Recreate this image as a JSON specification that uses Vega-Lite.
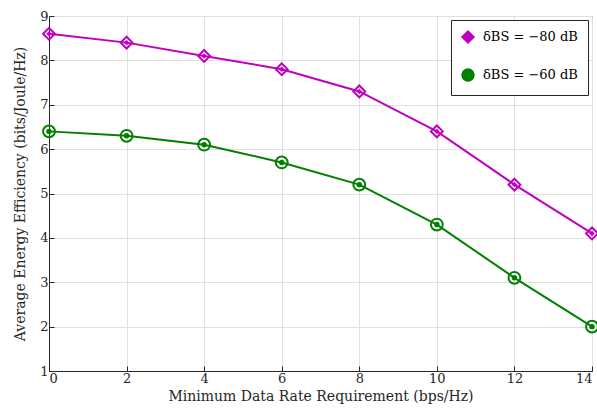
{
  "$schema": "https://vega.github.io/schema/vega-lite/v6.json",
  "autosize": {"type": "none"},
  "padding": {"left": 49, "top": 16, "right": 5, "bottom": 49},
  "width": 543,
  "height": 355,
  "background": "white",
  "config": {
    "font": "DejaVu Serif",
    "view": {"stroke": "#262626", "strokeWidth": 1},
    "axis": {
      "labelFont": "DejaVu Serif",
      "titleFont": "DejaVu Serif",
      "labelFontSize": 13,
      "titleFontSize": 14,
      "titleFontWeight": "normal",
      "labelColor": "#262626",
      "titleColor": "#262626",
      "domainColor": "#262626",
      "tickColor": "#262626",
      "gridColor": "#e0e0e0",
      "gridWidth": 1,
      "tickSize": -5
    },
    "legend": {
      "labelFont": "DejaVu Serif"
    }
  },
  "data": {
    "values": [
      {"rate": 0, "ee": 8.6, "series": "δBS = −80 dB"},
      {"rate": 2, "ee": 8.4, "series": "δBS = −80 dB"},
      {"rate": 4, "ee": 8.1, "series": "δBS = −80 dB"},
      {"rate": 6, "ee": 7.8, "series": "δBS = −80 dB"},
      {"rate": 8, "ee": 7.3, "series": "δBS = −80 dB"},
      {"rate": 10, "ee": 6.4, "series": "δBS = −80 dB"},
      {"rate": 12, "ee": 5.2, "series": "δBS = −80 dB"},
      {"rate": 14, "ee": 4.1, "series": "δBS = −80 dB"},
      {"rate": 0, "ee": 6.4, "series": "δBS = −60 dB"},
      {"rate": 2, "ee": 6.3, "series": "δBS = −60 dB"},
      {"rate": 4, "ee": 6.1, "series": "δBS = −60 dB"},
      {"rate": 6, "ee": 5.7, "series": "δBS = −60 dB"},
      {"rate": 8, "ee": 5.2, "series": "δBS = −60 dB"},
      {"rate": 10, "ee": 4.3, "series": "δBS = −60 dB"},
      {"rate": 12, "ee": 3.1, "series": "δBS = −60 dB"},
      {"rate": 14, "ee": 2.0, "series": "δBS = −60 dB"}
    ]
  },
  "encoding": {
    "x": {
      "field": "rate", "type": "quantitative",
      "scale": {"domain": [0, 14], "nice": false},
      "axis": {"values": [0, 2, 4, 6, 8, 10, 12, 14], "title": "Minimum Data Rate Requirement (bps/Hz)", "titlePadding": 4, "labelPadding": 6}
    },
    "y": {
      "field": "ee", "type": "quantitative",
      "scale": {"domain": [1, 9], "nice": false, "zero": false},
      "axis": {"values": [1, 2, 3, 4, 5, 6, 7, 8, 9], "title": "Average Energy Efficiency (bits/Joule/Hz)", "titlePadding": 12, "labelPadding": 6}
    },
    "color": {
      "field": "series", "type": "nominal",
      "scale": {"domain": ["δBS = −80 dB", "δBS = −60 dB"], "range": ["#c000c0", "#008000"]},
      "legend": {
        "title": null,
        "orient": "top-right",
        "offset": 4,
        "fillColor": "white",
        "strokeColor": "#262626",
        "padding": 10,
        "labelFontSize": 13,
        "labelColor": "#000000",
        "symbolStrokeWidth": 2,
        "symbolSize": 130,
        "symbolFillColor": "white",
        "labelOffset": 8,
        "rowPadding": 18
      }
    },
    "shape": {
      "field": "series", "type": "nominal",
      "scale": {"domain": ["δBS = −80 dB", "δBS = −60 dB"], "range": ["diamond", "circle"]},
      "legend": null
    }
  },
  "layer": [
    {"mark": {"type": "line", "strokeWidth": 2}},
    {"mark": {"type": "point", "filled": false, "strokeWidth": 2, "size": 140, "opacity": 1}}
  ]
}
